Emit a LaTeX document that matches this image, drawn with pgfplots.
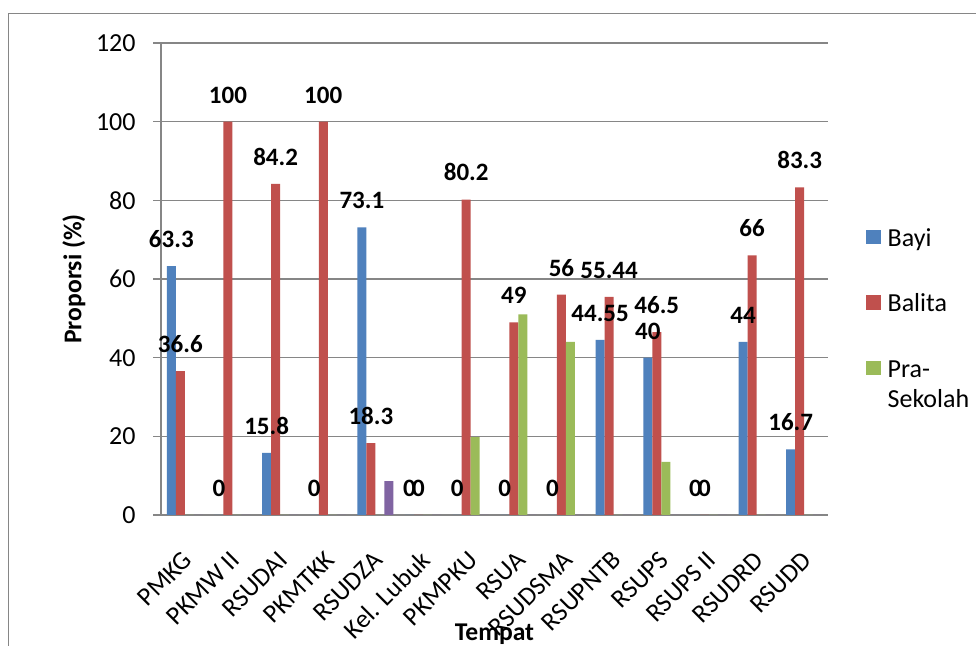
\documentclass[border=0pt]{standalone}
\usepackage{fontspec}
\setmainfont{Carlito}
\usepackage{pgfplots}
\pgfplotsset{compat=1.18}
\definecolor{cBayi}{RGB}{79,129,189}
\definecolor{cBalita}{RGB}{192,80,77}
\definecolor{cPra}{RGB}{155,187,89}
\definecolor{cUngu}{RGB}{128,100,162}
\definecolor{gridc}{RGB}{134,134,134}
\begin{document}
\begin{tikzpicture}
\useasboundingbox (0,0) rectangle (488pt,323pt);
\fill[white] (0,0) rectangle (488pt,323pt);
\draw[gridc, line width=0.6pt] (4.15pt,-5pt) rectangle (495pt,316.35pt);
\begin{axis}[
  at={(80.5pt,65.5pt)}, anchor=south west,
  scale only axis, width=333.5pt, height=236pt,
  xmin=-0.5, xmax=13.5, ymin=0, ymax=120,
  axis x line*=bottom, axis y line*=left,
  axis line style={-, gridc, line width=0.6pt},
  ymajorgrids, grid style={gridc, line width=0.6pt},
  ytick={0,20,...,120},
  xtick={0,...,13},
  xticklabels={PMKG, PKMW II, RSUDAI, PKMTKK, RSUDZA, Kel. Lubuk, PKMPKU, RSUA, RSUDSMA, RSUPNTB, RSUPS, RSUPS II, RSUDRD, RSUDD},
  xtick style={draw=none},
  ytick style={gridc, line width=0.6pt},
  tick align=outside, major tick length=4pt,
  /pgf/number format/assume math mode=true,
  yticklabel style={font=\fontsize{13}{15}\selectfont, anchor=east, inner sep=0pt, xshift=-8.5pt},
  xticklabel style={font=\fontsize{13}{15}\selectfont, xshift=1.5pt, yshift=-16.3pt, rotate=45, anchor=east, inner sep=0pt},
  xlabel={Tempat}, ylabel={Proporsi (\%)},
  every axis x label/.style={at={(axis description cs:0.5,0)}, anchor=base, yshift=-63pt, font=\bfseries\fontsize{12.8}{15}\selectfont},
  every axis y label/.style={at={(axis description cs:0,0.5)}, xshift=-43.5pt, rotate=90, anchor=center, font=\bfseries\fontsize{12.8}{15}\selectfont},
  every node near coord/.append style={font=\bfseries\fontsize{12.5}{14}\selectfont, anchor=south, inner sep=0pt, yshift=9pt, text=black},
  legend style={at={(1.057,0.6186)}, anchor=north west, draw=none, fill=none, inner sep=0pt, outer sep=0pt, row sep=15.75pt, column sep=1.5pt, font=\fontsize{13}{15}\selectfont, nodes={anchor=base west, inner sep=2pt, text height=9.5pt, text depth=3.5pt}},
  legend image code/.code={\fill[#1] (0pt,0.8pt) rectangle (7.3pt,8.1pt);},
]
\addplot[ybar, bar width=4.5pt, bar shift=-6.75pt, fill=cBayi, draw=none, point meta=explicit symbolic, nodes near coords,
  every node near coord/.append style={xshift=-6.75pt}]
coordinates {(0,63.3)[63.3] (1,0)[0] (2,15.8)[15.8] (3,0)[0] (4,73.1)[73.1] (5,0)[0] (6,0)[0] (7,0)[0] (8,0)[0] (9,44.55)[44.55] (10,40)[40] (11,0)[0] (12,44)[44] (13,16.7)[16.7]};
\addlegendentry{Bayi}
\addplot[ybar, bar width=4.5pt, bar shift=-2.25pt, fill=cBalita, draw=none, point meta=explicit symbolic, nodes near coords,
  every node near coord/.append style={xshift=-2.25pt}]
coordinates {(0,36.6)[36.6] (1,100)[100] (2,84.2)[84.2] (3,100)[100] (4,18.3)[18.3] (5,0)[0] (6,80.2)[80.2] (7,49)[49] (8,56)[56] (9,55.44)[55.44] (10,46.5)[46.5] (11,0)[0] (12,66)[66] (13,83.3)[83.3]};
\addlegendentry{Balita}
\addplot[ybar, bar width=4.5pt, bar shift=2.25pt, fill=cPra, draw=none]
coordinates {(0,0) (1,0) (2,0) (3,0) (4,0) (5,0) (6,19.8) (7,51) (8,44) (9,0) (10,13.5) (11,0) (12,0) (13,0)};
\addlegendentry{\begin{tabular}[t]{@{}l@{}}Pra-\\Sekolah\end{tabular}}
\addplot[ybar, bar width=4.5pt, bar shift=6.75pt, fill=cUngu, draw=none, forget plot]
coordinates {(0,0) (1,0) (2,0) (3,0) (4,8.6) (5,0) (6,0) (7,0) (8,0) (9,0) (10,0) (11,0) (12,0) (13,0)};
\end{axis}
\end{tikzpicture}
\end{document}
